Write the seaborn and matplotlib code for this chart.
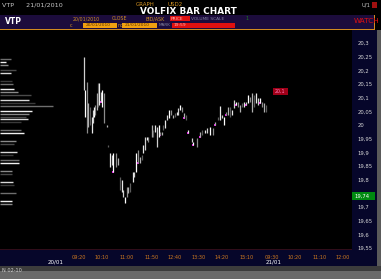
import matplotlib
matplotlib.use("Agg")
import matplotlib.pyplot as plt
from matplotlib.patches import Rectangle
import seaborn as sns
import pandas as pd

# ---------------- data ----------------
# bar slots (time buckets from first bar), highs and lows of each bar
bar_slot = [0, 1, 3, 4, 6, 8, 9, 10, 11, 13, 14, 15, 17, 18, 20, 23, 24, 26, 28, 29,
            32, 34, 36, 38, 39, 41, 43, 44, 46, 49, 50, 52, 54, 56, 58, 59, 61, 63, 64, 68,
            69, 71, 73, 75, 76, 78, 79, 81, 83, 85, 87, 89, 91, 93, 94, 96, 98, 100, 102, 104,
            108, 109, 113, 116, 118, 121, 123, 126, 129, 131, 134, 136, 138, 140, 142, 144, 146, 148, 150, 152,
            154, 156, 158, 160, 162, 164, 166, 168, 170, 172, 174, 176, 178, 180, 182]
bar_high = [20.249, 20.128, 20.157, 20.080, 20.066, 20.029, 20.055, 20.066, 20.073, 20.117,
            20.154, 20.154, 20.121, 20.128, 20.117, 20.000, 19.927, 19.898, 19.890, 19.898,
            19.898, 19.879, 19.810, 19.799, 19.762, 19.737, 19.773, 19.773, 19.788, 19.828,
            19.828, 19.898, 19.908, 19.883, 19.890, 19.927, 19.956, 19.956, 19.956, 20.000,
            19.982, 20.000, 19.993, 20.000, 19.974, 19.974, 20.000, 20.018, 20.037, 20.055,
            20.055, 20.037, 20.044, 20.048, 20.062, 20.073, 20.066, 20.044, 20.037, 19.982,
            19.952, 19.938, 19.952, 19.974, 19.982, 19.982, 19.989, 19.993, 19.989, 20.011,
            20.029, 20.069, 20.037, 20.029, 20.048, 20.066, 20.066, 20.055, 20.091, 20.084,
            20.084, 20.073, 20.080, 20.084, 20.084, 20.110, 20.102, 20.117, 20.110, 20.117,
            20.099, 20.099, 20.084, 20.080, 20.073]
bar_low = [20.128, 20.029, 19.971, 19.993, 20.000, 19.971, 20.007, 20.029, 20.037, 20.055,
           20.066, 20.073, 20.084, 20.066, 20.007, 19.993, 19.919, 19.846, 19.854, 19.828,
           19.846, 19.854, 19.762, 19.755, 19.737, 19.715, 19.737, 19.751, 19.755, 19.791,
           19.810, 19.828, 19.861, 19.861, 19.872, 19.898, 19.908, 19.945, 19.938, 19.956,
           19.956, 19.974, 19.919, 19.956, 19.963, 19.963, 19.982, 19.989, 20.018, 20.026,
           20.037, 20.026, 20.029, 20.037, 20.037, 20.055, 20.048, 20.026, 20.018, 19.971,
           19.938, 19.927, 19.919, 19.956, 19.963, 19.971, 19.971, 19.963, 19.963, 20.000,
           20.018, 20.018, 20.026, 20.000, 20.037, 20.037, 20.029, 20.037, 20.062, 20.073,
           20.066, 20.048, 20.066, 20.066, 20.073, 20.080, 20.084, 20.048, 20.066, 20.080,
           20.073, 20.080, 20.066, 20.048, 20.048]
# slots carrying a magenta trade mark
mark_slot = [17, 29, 54, 76, 100, 104, 109, 116, 131, 142, 152, 162, 176]

# volume-at-price profile
vap_price = [20.241, 20.229, 20.220, 20.200, 20.189, 20.160, 20.150, 20.131, 20.120, 20.109,
             20.090, 20.079, 20.068, 20.050, 20.039, 20.028, 20.021, 20.010, 19.981, 19.970,
             19.940, 19.929, 19.903, 19.891, 19.871, 19.860, 19.831, 19.820, 19.790, 19.779,
             19.750, 19.721, 19.710]
vap_volume = [11, 6, 8, 16, 11, 12, 13, 14, 18, 31, 29, 35, 53, 32, 29, 26, 28, 21, 21, 24,
              16, 14, 17, 13, 19, 19, 12, 12, 13, 14, 16, 12, 12]

y_ticks = [20.30, 20.25, 20.20, 20.15, 20.10, 20.05, 20.00, 19.95, 19.90, 19.85,
           19.80, 19.70, 19.65, 19.60, 19.55]
time_ticks = [-5, 18, 43, 68, 91, 115, 138, 163, 188, 211, 236, 259]
time_labels = ["09:20", "10:10", "11:00", "11:50", "12:40", "13:30", "14:20", "15:10",
               "09:30", "10:20", "11:10", "12:00"]
last_price = "19,74"

# ---------------- figure ----------------
sns.set_style("dark", {"axes.facecolor": "black", "figure.facecolor": "black"})
plt.rcParams['font.family'] = ['DejaVu Sans']

W, H = 381, 279
fig = plt.figure(figsize=(W / 100, H / 100), dpi=100)
fig.patch.set_facecolor("black")

def fx(x):
    return x / W

def fy(y):
    return 1 - y / H

def frect(x0, y0, x1, y1, color, z=-1):
    fig.add_artist(Rectangle((fx(x0), fy(y1)), fx(x1) - fx(x0), fy(y0) - fy(y1),
                             transform=fig.transFigure, facecolor=color,
                             edgecolor="none", lw=0, zorder=z))

def ftext(x, y, s, color, size=4.6, **kw):
    fig.text(fx(x), fy(y), s, color=color, fontsize=size, va="center", zorder=5, **kw)

# background panels
frect(352, 30, 377, 250, "#06062a")          # price scale panel
frect(0, 250, 377, 266, "#06062a")           # time axis panel
frect(377, 30, 381, 266, "#5a5a5a")          # scrollbar
frect(0, 266, 381, 279, "#3c3c3c")           # bottom bar
frect(0, 271, 381, 279, "#6a6a6a")

# header
frect(0, 15, 375, 29, "#1c0c3c")
frect(0, 28.6, 375, 29.6, "#d08a20")
frect(374, 15, 375.2, 29.6, "#d08a20")
ftext(2, 5, "VTP      21/01/2010", "#c8c8c8", size=4.6)
ftext(136, 5, "GRAPH", "#d09020", size=4)
ftext(168, 5, "USD2", "#d09020", size=4)
ftext(140, 11.5, "VOLFIX BAR CHART", "white", size=6.4, fontweight="bold")
ftext(361, 5, "U/1", "#c8c8c8", size=3.8)
frect(372, 2, 377, 8, "#a01010")
ftext(5, 21, "VTP", "white", size=5.5, fontweight="bold")
ftext(73, 18.6, "20/01/2010", "#d09020", size=3.4)
ftext(112, 18.6, "CLOSE", "#d09020", size=3.4)
ftext(146, 18.6, "BID/ASK", "#d09020", size=3.4)
frect(170, 16, 190, 21.3, "#e01010")
ftext(171, 18.6, "PRICE", "#ffb0b0", size=3.2)
ftext(191, 18.6, "VOLUME SCALE", "#8080a0", size=3.2)
ftext(245, 18.6, "1", "#208020", size=3.4)
ftext(354, 21, "WATCH", "#e01010", size=5.2)
ftext(70, 25.3, "c", "#d09020", size=3.4)
frect(83, 22.6, 117, 28, "#f0a010")
ftext(86, 25.3, "20/01/2010", "#5a3000", size=3.2)
ftext(118, 25.3, "no", "#d09020", size=3.4)
frect(122, 22.6, 157, 28, "#f0a010")
ftext(125, 25.3, "21/01/2010", "#5a3000", size=3.2)
ftext(159, 25.3, "MARK", "#8080a0", size=3.0)
frect(172, 22.6, 235, 28, "#e01010")
ftext(174, 25.3, "19:59", "#ffb0b0", size=3.2)

# main axes
ax = fig.add_axes([0, fy(250), fx(352), fy(30) - fy(250)])
ax.set_facecolor("black")
ax.set_xlim(-84, 268)
ax.set_ylim(19.5426, 20.3476)

# volume profile on a twin axis
axv = ax.twiny()
axv.set_xlim(0, 352)
shades = ["#6e6e6e", "#f0f0f0", "#8a8a8a", "#4a4a4a", "#d8d8d8", "#3a3a3a"]
vap = pd.DataFrame({"price": vap_price, "volume": vap_volume})
for i, row in vap.iterrows():
    axv.hlines(row.price, 0, row.volume, color=shades[i % len(shades)], lw=1.0)
axv.set_xticks([])
for s in axv.spines.values():
    s.set_visible(False)

# price bars
bars = pd.DataFrame({"slot": bar_slot, "high": bar_high, "low": bar_low})
bar_shades = ["#d0d0d0", "#ffffff", "#8c8c8c", "#b0b0b0", "#5c5c5c", "#e8e8e8"]
for i, row in bars.iterrows():
    ax.vlines(row.slot, row.low, row.high, color=bar_shades[i % len(bar_shades)], lw=0.9)

marks = bars[bars.slot.isin(mark_slot)]
sns.scatterplot(data=marks, x="slot", y="low", ax=ax, marker="s", s=2.5,
                color="#e020e0", linewidth=0, legend=False)

# current price label on chart
ax.add_patch(Rectangle((189, 20.108), 15, 0.029, facecolor="#a00018", edgecolor="none"))
ax.text(190.5, 20.1225, "20,1", color="#ff80c0", fontsize=3.4, va="center")

# axes styling
ax.yaxis.tick_right()
ax.set_yticks(y_ticks)
ax.set_yticklabels([f"{v:.2f}".rstrip("0").rstrip(".").replace(".", ",") for v in y_ticks],
                   color="#d8d8d8", fontsize=3.8)
ax.tick_params(axis="y", length=0, pad=4)
ax.set_xticks(time_ticks)
ax.set_xticklabels(time_labels, color="#d07a20", fontsize=3.6)
ax.tick_params(axis="x", length=0, pad=3.5)
ax.set_xlabel("")
ax.set_ylabel("")
ax.grid(False)
for s in ax.spines.values():
    s.set_visible(False)
ax.axhline(19.5426, color="#3a1020", lw=1.2)

# green last-price box
frect(352, 192, 375, 200, "#008a10", z=4)
ftext(354, 196, last_price, "white", size=3.8)

# date labels
ftext(48, 262.5, "20/01", "white", size=4.0)
ftext(266, 262.5, "21/01", "white", size=4.0)
ftext(2, 270.5, "N 02-10", "#d0d0d0", size=3.6)

fig.savefig("out.png", dpi=100, facecolor="black")
